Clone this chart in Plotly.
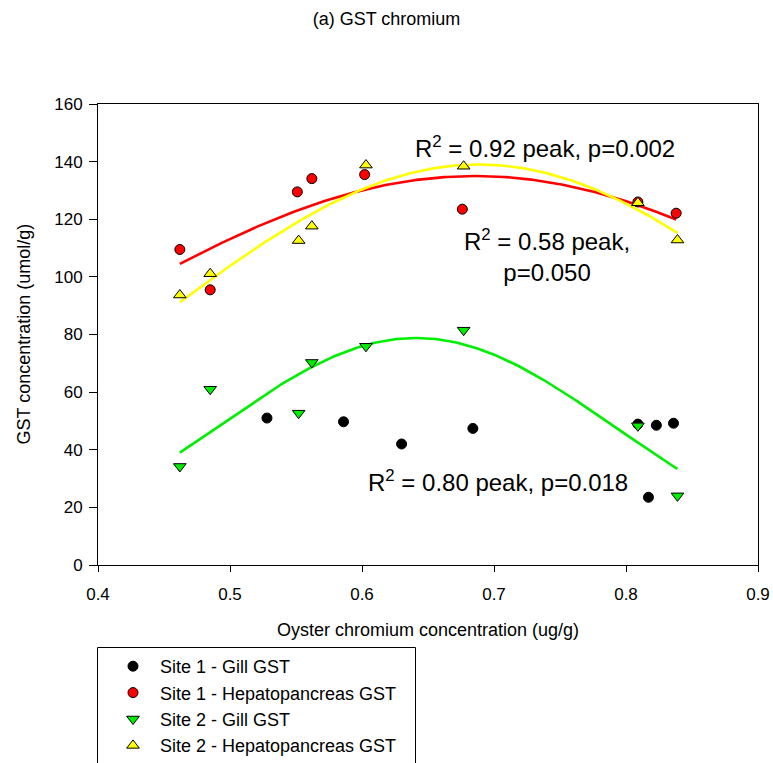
import numpy as np
import plotly.graph_objects as go

# Oyster chromium concentration (ug/g) and GST activity (umol/g)
s1_gill_x = [0.528, 0.586, 0.630, 0.684, 0.809, 0.817, 0.823, 0.836]
s1_gill_y = [51.0, 49.7, 42.0, 47.4, 48.9, 23.5, 48.5, 49.2]

s1_hep_x = [0.462, 0.485, 0.551, 0.562, 0.602, 0.676, 0.809, 0.838]
s1_hep_y = [109.5, 95.5, 129.5, 134.1, 135.5, 123.5, 126.0, 122.1]

s2_gill_x = [0.462, 0.485, 0.552, 0.562, 0.603, 0.677, 0.809, 0.839]
s2_gill_y = [34.2, 61.0, 52.7, 70.3, 75.9, 81.5, 48.3, 24.0]

s2_hep_x = [0.462, 0.485, 0.552, 0.562, 0.603, 0.677, 0.809, 0.839]
s2_hep_y = [93.7, 101.1, 112.6, 117.6, 138.8, 138.4, 125.7, 112.8]

# Three-parameter Gaussian peak fits: (amplitude, centre, width)
fit_s1_hep = (135.0, 0.6857, 0.3126)
fit_s2_hep = (139.0, 0.6883, 0.2465)
fit_s2_gill = (78.8, 0.641, 0.151)

x_ticks = [0.4, 0.5, 0.6, 0.7, 0.8, 0.9]
y_ticks = [0, 20, 40, 60, 80, 100, 120, 140, 160]

FONT = "Liberation Sans, Arial, sans-serif"
W, H = 773, 763
ML, MR, MT, MB = 98, 15, 104, 198
PW, PH = W - ML - MR, H - MT - MB


def px_to_paper_x(px):
    return (px - ML) / PW


def px_to_paper_y(py):
    return (H - MB - py) / PH


def peak_curve(xs, params, n=200):
    a, x0, b = params
    xx = np.linspace(min(xs), max(xs), n)
    return xx, a * np.exp(-0.5 * ((xx - x0) / b) ** 2)


fig = go.Figure()

# fitted peak curves
for xs, params, colour in [
    (s1_hep_x, fit_s1_hep, "#ff0000"),
    (s2_hep_x, fit_s2_hep, "#ffff00"),
    (s2_gill_x, fit_s2_gill, "#00ee00"),
]:
    cx, cy = peak_curve(xs, params)
    fig.add_trace(go.Scatter(x=cx, y=cy, mode="lines",
                             line=dict(color=colour, width=2.6),
                             showlegend=False, hoverinfo="skip"))

# measured points
fig.add_trace(go.Scatter(
    x=s1_gill_x, y=s1_gill_y, mode="markers", name="Site 1 - Gill GST",
    marker=dict(symbol="circle", size=10, color="black",
                line=dict(color="black", width=1))))
fig.add_trace(go.Scatter(
    x=s1_hep_x, y=s1_hep_y, mode="markers", name="Site 1 - Hepatopancreas GST",
    marker=dict(symbol="circle", size=10, color="#ff0000",
                line=dict(color="black", width=1))))
fig.add_trace(go.Scatter(
    x=s2_gill_x, y=s2_gill_y, mode="markers", name="Site 2 - Gill GST",
    marker=dict(symbol="triangle-down", size=11, color="#00ee00",
                line=dict(color="black", width=1))))
fig.add_trace(go.Scatter(
    x=s2_hep_x, y=s2_hep_y, mode="markers", name="Site 2 - Hepatopancreas GST",
    marker=dict(symbol="triangle-up", size=11, color="#ffff00",
                line=dict(color="black", width=1))))

axis_common = dict(
    showgrid=False, zeroline=False, showline=True, linecolor="black",
    linewidth=1, mirror=True, ticks="outside", tickwidth=1,
    tickcolor="black", automargin=False,
    tickfont=dict(family=FONT, size=17, color="black"),
)

fig.update_layout(
    width=W, height=H,
    margin=dict(l=ML, r=MR, t=MT, b=MB, autoexpand=False),
    paper_bgcolor="white", plot_bgcolor="white",
    font=dict(family=FONT, color="black"),
    title=dict(text="(a) GST chromium", x=0.5, xanchor="center",
               y=1 - 19 / H, yanchor="middle", yref="container",
               font=dict(family=FONT, size=18, color="black")),
    xaxis=dict(range=[0.4, 0.9], tickvals=x_ticks,
               ticktext=[f"{v:.1f}" for v in x_ticks],
               ticklen=6, ticklabelstandoff=8, **axis_common),
    yaxis=dict(range=[0, 160], tickvals=y_ticks,
               ticklen=8, ticklabelstandoff=3, **axis_common),
    legend=dict(xref="container", yref="container",
                x=106 / W, y=1 - 648 / H, xanchor="left", yanchor="top",
                itemwidth=44,
                bgcolor="rgba(0,0,0,0)", borderwidth=0,
                font=dict(family=FONT, size=18, color="black")),
    showlegend=True,
)

# axis titles
title_font = dict(family=FONT, size=18, color="black")
fig.add_annotation(text="Oyster chromium concentration (ug/g)",
                   xref="paper", yref="paper", x=0.5, y=px_to_paper_y(630),
                   xanchor="center", yanchor="middle", showarrow=False,
                   font=title_font)
fig.add_annotation(text="GST concentration (umol/g)", textangle=-90,
                   xref="paper", yref="paper", x=px_to_paper_x(23), y=0.5,
                   xanchor="center", yanchor="middle", showarrow=False,
                   font=title_font)

# legend frame
fig.add_shape(type="rect", xref="paper", yref="paper",
              x0=px_to_paper_x(97.5), x1=px_to_paper_x(415.5),
              y0=px_to_paper_y(647.5), y1=px_to_paper_y(790),
              line=dict(color="black", width=1), fillcolor="rgba(0,0,0,0)")

# fit statistics
ann_font = dict(family=FONT, size=24, color="black")
fig.add_annotation(x=0.739, y=145.1, xref="x", yref="y", showarrow=False,
                   text="R<sup>2</sup> = 0.92 peak, p=0.002", font=ann_font)
fig.add_annotation(x=0.740, y=107.3, xref="x", yref="y", showarrow=False,
                   text="R<sup>2</sup> = 0.58 peak,<br>p=0.050", font=ann_font,
                   align="center")
fig.add_annotation(x=0.7027, y=29.2, xref="x", yref="y", showarrow=False,
                   text="R<sup>2</sup> = 0.80 peak, p=0.018", font=ann_font)

fig.write_html("out.html")
